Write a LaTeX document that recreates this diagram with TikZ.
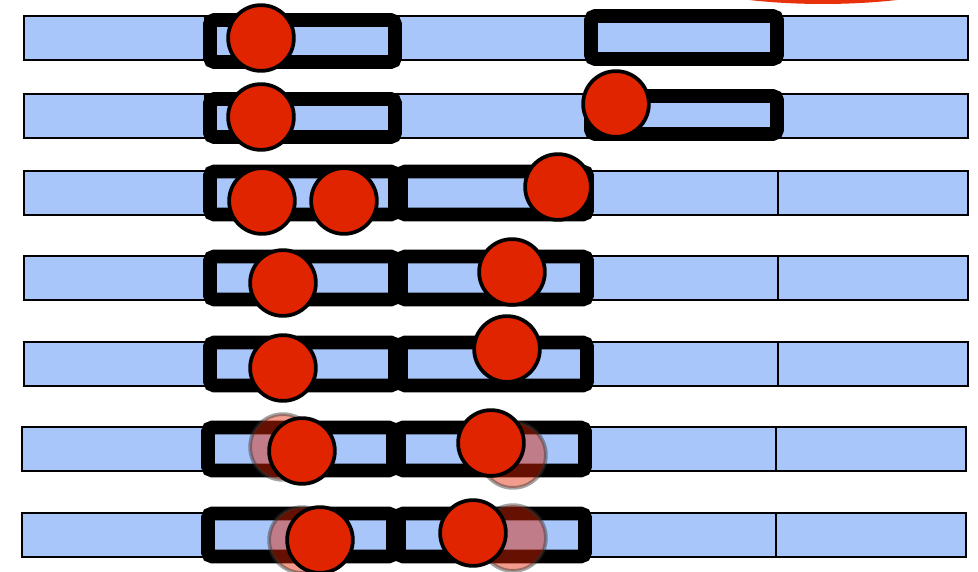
\documentclass[tikz,border=0pt]{standalone}
\usepackage{tikz}
\usetikzlibrary{positioning}
\definecolor{segblue}{HTML}{A8C6FA}
\definecolor{snpred}{HTML}{E02400}
\definecolor{markred}{HTML}{E8300A}
\tikzset{
  seg/.style  ={draw=black, line width=1.8pt, fill=segblue},
  win/.style  ={draw=black, line width=10.2pt, rounded corners=3pt},
  snp/.style  ={circle, draw=black, line width=2.8pt, fill=snpred, minimum size=17.4mm, inner sep=0pt},
  ghost/.style={snp, draw=black!80, opacity=0.45},
}

\begin{document}
\begin{tikzpicture}[x=0.2646mm, y=-0.2646mm]
  \useasboundingbox (0,0) rectangle (978,572);
  \clip (0,0) rectangle (978,572);

  % marker cut off at the top edge
  \draw[markred, line width=4.5pt] (823,-59) ellipse [x radius=205, y radius=60];

  % the seven bars, each of five segments
  \foreach \y/\s in {38/0, 116/0, 193/0, 278/0, 364/0, 449/-2, 535/-2}
    \foreach \a/\b in {24/205, 205/397, 397/590, 590/778, 778/968}
      \draw[seg] ({\a+\s},{\y-22}) rectangle ({\b+\s},{\y+22});

  % windows
  \draw[win] (210,20) rectangle (395,62);
  \draw[win] (591,16) rectangle (777,59);
  \draw[win] (210,99) rectangle (395,137);
  \draw[win] (591,96) rectangle (777,134);
  \foreach \y/\s in {193/0, 278/0, 364/0, 449/-2, 535/-2} {
    \draw[win] ({210+\s},{\y-21.5}) rectangle ({395+\s},{\y+21.5});
    \draw[win] ({401+\s},{\y-21.5}) rectangle ({587+\s},{\y+21.5});
  }

  % earlier positions
  \node[ghost] (g6a) at (283,447) {};
  \node[ghost] (g6b) at (513,455) {};
  \node[ghost] (g7a) at (302,540) {};
  \node[ghost] (g7b) at (513,538) {};

  % snps
  \node[snp] (s1a) at (261,38)  {};
  \node[snp] (s2a) at (261,117) {};
  \node[snp] (s2b) at (616,104) {};
  \node[snp] (s3a) at (262,201) {};
  \node[snp] (s3b) at (344,201) {};
  \node[snp] (s3c) at (558,187) {};
  \node[snp] (s4a) at (283,283) {};
  \node[snp] (s4b) at (512,272) {};
  \node[snp] (s5a) at (283,368) {};
  \node[snp] (s5b) at (507,349) {};
  \node[snp] (s6a) at (302,451) {};
  \node[snp] (s6b) at (491,443) {};
  \node[snp] (s7a) at (320,540) {};
  \node[snp] (s7b) at (473,533) {};
\end{tikzpicture}
\end{document}
